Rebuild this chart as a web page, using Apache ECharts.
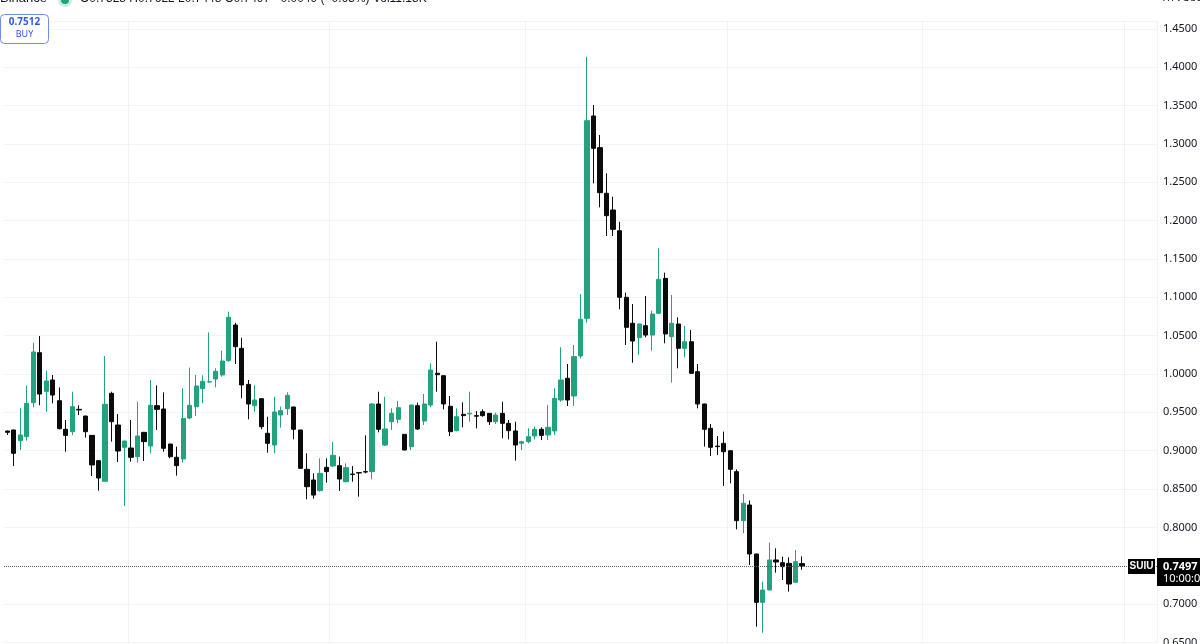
<!DOCTYPE html>
<html>
<head>
<meta charset="utf-8">
<script src="https://cdn.jsdelivr.net/npm/echarts@6/dist/echarts.min.js"></script>
<style>
  html, body { margin: 0; padding: 0; background: #fff; }
  #chart { width: 1200px; height: 644px; }
</style>
</head>
<body>
<div id="chart"></div>
<script>
// candles, one per day
const opens = [
  0.9257, 0.9270, 0.9131, 0.9183, 0.9626, 1.0278, 0.9774, 0.9922, 0.9652, 0.9279,
  0.9248, 0.9539, 0.9452, 0.9200, 0.8870, 0.8601, 0.9748, 0.9335, 0.9044, 0.9035,
  0.8922, 0.9239, 0.9061, 0.9587, 0.9544, 0.9087, 0.8914, 0.8892, 0.9426, 0.9574,
  0.9809, 0.9895, 0.9935, 0.9987, 1.0174, 1.0639, 1.0335, 0.9865, 0.9587, 0.9678,
  0.9227, 0.9074, 0.9465, 0.9548, 0.9570, 0.9270, 0.8757, 0.8618, 0.8479, 0.8783,
  0.8801, 0.8805, 0.8596, 0.8696, 0.8714, 0.8727, 0.8727, 0.9609, 0.9074, 0.9378,
  0.9409, 0.9213, 0.9053, 0.9587, 0.9387, 0.9596, 1.0009, 0.9978, 0.9579, 0.9261,
  0.9474, 0.9480, 0.9457, 0.9509, 0.9487, 0.9378, 0.9487, 0.9357, 0.9257, 0.9096,
  0.9118, 0.9192, 0.9279, 0.9205, 0.9257, 0.9661, 0.9944, 0.9713, 1.0235, 1.0726,
  1.3364, 1.2951, 1.2356, 1.2138, 1.1868, 1.1000, 1.0661, 1.0474, 1.0630, 1.0508,
  1.0791, 1.1247, 1.0487, 1.0652, 1.0335, 1.0421, 1.0030, 0.9609, 0.9292, 0.9060,
  0.9096, 0.9000, 0.8727, 0.8088, 0.8292, 0.7653, 0.7023, 0.7184, 0.7575, 0.7540,
  0.7531, 0.7284, 0.7528
];
const closes = [
  0.9239, 0.8966, 0.9205, 0.9618, 1.0287, 0.9739, 0.9909, 0.9726, 0.9287, 0.9200,
  0.9574, 0.9531, 0.9248, 0.8814, 0.8644, 0.9605, 0.9378, 0.8996, 0.9126, 0.8914,
  0.9192, 0.9118, 0.9592, 0.9539, 0.9031, 0.8922, 0.8805, 0.9422, 0.9592, 0.9844,
  0.9904, 0.9900, 1.0035, 1.0169, 1.0739, 1.0356, 0.9857, 0.9609, 0.9661, 0.9313,
  0.9096, 0.9505, 0.9522, 0.9722, 0.9279, 0.8770, 0.8531, 0.8422, 0.8705, 0.8727,
  0.8940, 0.8631, 0.8779, 0.8690, 0.8710, 0.8722, 0.9609, 0.9279, 0.9283, 0.9487,
  0.9561, 0.9009, 0.9596, 0.9283, 0.9609, 1.0052, 0.9991, 0.9609, 0.9248, 0.9443,
  0.9457, 0.9487, 0.9450, 0.9457, 0.9378, 0.9465, 0.9357, 0.9261, 0.9074, 0.9118,
  0.9183, 0.9279, 0.9200, 0.9305, 0.9683, 0.9922, 0.9661, 1.0226, 1.0713, 1.3303,
  1.2942, 1.2364, 1.2064, 1.1886, 1.1000, 1.0608, 1.0430, 1.0652, 1.0508, 1.0782,
  1.1234, 1.0522, 1.0661, 1.0335, 1.0421, 1.0009, 0.9609, 0.9279, 0.9044, 0.9053,
  0.8987, 0.8757, 0.8088, 0.8314, 0.7653, 0.7023, 0.7184, 0.7575, 0.7549, 0.7488,
  0.7262, 0.7553, 0.7497
];
const lows = [
  0.9205, 0.8801, 0.9009, 0.9131, 0.9566, 0.9592, 0.9509, 0.9618, 0.9279, 0.8987,
  0.9205, 0.9465, 0.9170, 0.8670, 0.8479, 0.8601, 0.9118, 0.8853, 0.8279, 0.8857,
  0.8844, 0.8866, 0.8966, 0.9270, 0.8987, 0.8901, 0.8675, 0.8848, 0.9409, 0.9452,
  0.9618, 0.9887, 0.9826, 0.9965, 1.0161, 1.0130, 0.9683, 0.9409, 0.9509, 0.9279,
  0.8974, 0.8966, 0.9300, 0.9465, 0.9148, 0.8768, 0.8366, 0.8375, 0.8466, 0.8583,
  0.8792, 0.8475, 0.8588, 0.8596, 0.8400, 0.8705, 0.8627, 0.9240, 0.9061, 0.9270,
  0.9357, 0.9005, 0.9009, 0.9270, 0.9335, 0.9566, 0.9769, 0.9539, 0.9192, 0.9252,
  0.9305, 0.9378, 0.9292, 0.9443, 0.9335, 0.9348, 0.9161, 0.9148, 0.8870, 0.9009,
  0.9096, 0.9148, 0.9140, 0.9140, 0.9205, 0.9639, 0.9583, 0.9583, 1.0204, 1.0669,
  1.2486, 1.2173, 1.1799, 1.1800, 1.0843, 1.0378, 1.0147, 1.0248, 1.0478, 1.0304,
  1.0782, 1.0400, 0.9887, 1.0074, 1.0217, 1.0000, 0.9552, 0.9053, 0.8931, 0.8944,
  0.8540, 0.8575, 0.7975, 0.7923, 0.7510, 0.6706, 0.6627, 0.7180, 0.7410, 0.7314,
  0.7162, 0.7280, 0.7448
];
const highs = [
  0.9262, 0.9275, 0.9552, 0.9848, 1.0408, 1.0495, 1.0043, 0.9987, 0.9826, 0.9400,
  0.9769, 0.9592, 0.9455, 0.9205, 0.8875, 1.0235, 0.9769, 0.9478, 0.9130, 0.9400,
  0.9639, 0.9245, 0.9922, 0.9852, 0.9761, 0.9090, 0.9053, 0.9813, 1.0083, 0.9987,
  0.9983, 1.0543, 1.0074, 1.0304, 1.0813, 1.0669, 1.0474, 0.9922, 0.9852, 0.9680,
  0.9443, 0.9704, 0.9574, 0.9761, 0.9572, 0.9272, 0.8966, 0.8705, 0.8901, 0.8901,
  0.9113, 0.8922, 0.8835, 0.8801, 0.8722, 0.9200, 0.9622, 0.9769, 0.9704, 0.9552,
  0.9648, 0.9215, 0.9600, 0.9626, 0.9739, 1.0139, 1.0421, 0.9980, 0.9713, 0.9552,
  0.9631, 0.9769, 0.9518, 0.9539, 0.9490, 0.9496, 0.9639, 0.9400, 0.9378, 0.9130,
  0.9292, 0.9313, 0.9305, 0.9596, 0.9813, 1.0348, 1.0130, 1.0378, 1.1043, 1.4137,
  1.3507, 1.3116, 1.2616, 1.2312, 1.1986, 1.1060, 1.0913, 1.0655, 1.1017, 1.0826,
  1.1639, 1.1321, 1.1030, 1.0739, 1.0626, 1.0574, 1.0130, 0.9612, 0.9348, 0.9192,
  0.9248, 0.9003, 0.8757, 0.8435, 0.8350, 0.7656, 0.7292, 0.7801, 0.7727, 0.7618,
  0.7610, 0.7705, 0.7622
];
const lastPrice = 0.7497;
const emptyDays = 54;              // free space on the right of the last candle
const monthStarts = [19, 50, 80, 111, 141, 172];

const upColor = '#22a27f';
const downColor = '#0b0b0b';

const totalDays = opens.length + emptyDays;
const days = [];
const start = new Date(2024, 1, 11);
for (let i = 0; i < totalDays; i++) {
    const d = new Date(start.getTime() + i * 86400000);
    days.push((d.getMonth() + 1) + '/' + d.getDate());
}
const candles = opens.map((o, i) => [o, closes[i], lows[i], highs[i]]);

const chart = echarts.init(document.getElementById('chart'));
const option = {
    animation: false,
    backgroundColor: '#ffffff',
    grid: { left: 4, right: 43, top: 21.18, bottom: 1.55, outerBoundsMode: 'none', containLabel: false },
    xAxis: {
        type: 'category',
        data: days,
        axisLine: { show: false },
        axisTick: { show: false, alignWithLabel: true },
        axisLabel: { show: false },
        splitLine: {
            show: true,
            interval: (i) => monthStarts.includes(i),
            lineStyle: { color: '#f1f2f4', width: 1 }
        }
    },
    yAxis: {
        type: 'value',
        position: 'right',
        min: 0.65,
        max: 1.46,
        interval: 0.05,
        axisLine: { show: false },
        axisTick: { show: false },
        axisLabel: {
            showMaxLabel: false,
            margin: 6,
            color: '#131722',
            fontSize: 11,
            fontFamily: 'Noto Sans',
            formatter: (v) => v.toFixed(4)
        },
        splitLine: { lineStyle: { color: '#f2f3f5', width: 1 } }
    },
    series: [{
        type: 'candlestick',
        data: candles,
        barWidth: '72%',
        itemStyle: {
            color: upColor,
            color0: downColor,
            borderColor: upColor,
            borderColor0: downColor,
            borderWidth: 1
        },
        markLine: {
            silent: true,
            symbol: 'none',
            label: { show: false },
            lineStyle: { type: 'dotted', color: '#5d606b', width: 1 },
            data: [{ yAxis: lastPrice }]
        }
    }]
};
chart.setOption(option);

// price tags on the right, placed where the scale puts the last price
const py = chart.convertToPixel({ yAxisIndex: 0 }, lastPrice);
chart.setOption({
    graphic: [
        { type: 'rect', z: 100, shape: { x: 1128, y: py - 7, width: 27, height: 15 }, style: { fill: '#000' } },
        { type: 'text', z: 101, x: 1141.5, y: py + 0.5, style: { text: 'SUIU', fill: '#fff', font: 'bold 10px Liberation Sans', align: 'center', verticalAlign: 'middle' } },
        { type: 'rect', z: 100, shape: { x: 1157, y: py - 8, width: 45, height: 28 }, style: { fill: '#000' } },
        { type: 'text', z: 101, x: 1163, y: py + 0.5, style: { text: lastPrice.toFixed(4), fill: '#fff', font: 'bold 11px Noto Sans', verticalAlign: 'middle' } },
        { type: 'text', z: 101, x: 1163, y: py + 13, style: { text: '10:00:01', fill: '#fff', font: '11px Noto Sans', verticalAlign: 'middle' } },
        // legend line at the top, cut by the window edge
        { type: 'text', z: 100, x: 0, y: -8, style: { text: 'Binance', fill: '#131722', font: '13px Liberation Sans' } },
        { type: 'circle', z: 100, shape: { cx: 65, cy: 0, r: 7 }, style: { fill: '#c9eee3' } },
        { type: 'circle', z: 101, shape: { cx: 65, cy: 0, r: 4 }, style: { fill: upColor } },
        { type: 'text', z: 100, x: 80, y: -7, style: { text: 'O0.7528 H0.7622 L0.7448 C0.7497 \u22120.0049 (\u22120.65%) Vol11.18K', fill: '#131722', font: '12px Liberation Sans' } },
        { type: 'text', z: 100, x: 1163, y: -8, style: { text: 'XTVCUSD', fill: '#131722', font: '11px Noto Sans' } },
        // buy button
        { type: 'rect', z: 100, shape: { x: 0.5, y: 14.5, width: 48, height: 29, r: 4 }, style: { fill: '#fff', stroke: '#6d8bf0', lineWidth: 1 } },
        { type: 'text', z: 101, x: 24.5, y: 22, style: { text: '0.7512', fill: '#2f5be0', font: 'bold 10px Noto Sans', align: 'center', verticalAlign: 'middle' } },
        { type: 'text', z: 101, x: 24.5, y: 34.5, style: { text: 'BUY', fill: '#2f5be0', font: '9px Noto Sans', align: 'center', verticalAlign: 'middle' } }
    ]
});
</script>
</body>
</html>
